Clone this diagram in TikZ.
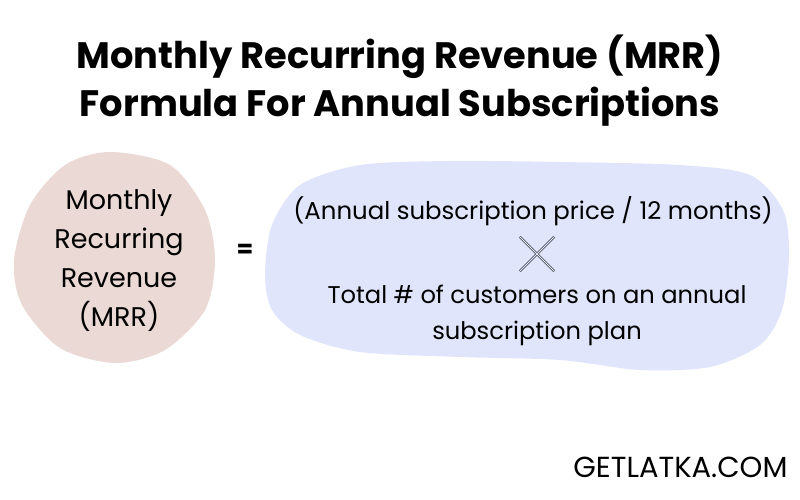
\documentclass[tikz,border=0pt]{standalone}
\usepackage{fontspec}
\setmainfont{Poppins}
\usetikzlibrary{positioning}
\definecolor{mrrpink}{HTML}{EAD9D4}
\definecolor{mrrblue}{HTML}{E0E5FB}

\begin{document}
\begin{tikzpicture}[x=1pt,y=-1pt,
  txt/.style={align=center,font=\fontsize{27}{39}\selectfont}]
\useasboundingbox (0,0) rectangle (800,500);
% the two blobs
\fill[mrrpink] plot[smooth cycle] coordinates {(110,152) (170,165) (205,210) (215,260) (205,310) (165,350) (115,363) (60,348) (22,305) (14,260) (30,205) (65,165)};
\fill[mrrblue] plot[smooth cycle] coordinates {(265,275) (272,225) (300,185) (360,165) (450,161) (560,162) (680,165) (750,175) (783,210) (789,255) (782,310) (760,345) (710,367) (640,370) (560,360) (460,357) (360,352) (300,335) (272,310)};

\node[font=\bfseries\fontsize{36.8}{48}\selectfont,align=center] (title) at (400,81) {Monthly Recurring Revenue (MRR)\\Formula For Annual Subscriptions};
\node[txt] (mrr) at (119,261) {Monthly\\Recurring\\Revenue\\(MRR)};
\node[txt,font=\bfseries\fontsize{24}{30}\selectfont] (eq) at (245,251) {=};
\node[txt,font=\fontsize{24.4}{36}\selectfont] (price) at (533,211) {(Annual subscription price / 12 months)};
\node[minimum size=34pt,inner sep=0pt] (times) at (537,254) {};
\draw[double=mrrblue,double distance=1.4pt,line width=0.5pt] (times.north west) -- (times.south east) (times.north east) -- (times.south west);
\node[txt,font=\fontsize{24.2}{36}\selectfont] (cust) at (537,315) {Total \# of customers on an annual\\subscription plan};
\node[font=\fontsize{29}{30}\selectfont,anchor=east] (site) at (791,467) {GETLATKA.COM};
\end{tikzpicture}
\end{document}
